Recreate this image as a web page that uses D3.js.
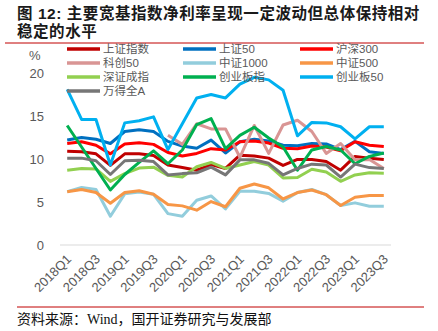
<!DOCTYPE html>
<html><head><meta charset="utf-8">
<script src="https://cdn.jsdelivr.net/npm/d3@7"></script>
<style>
html,body{margin:0;padding:0;background:#fff;}
svg{display:block;}
</style></head>
<body>
<script>
const quarters = ["2018Q1","2018Q2","2018Q3","2018Q4","2019Q1","2019Q2","2019Q3","2019Q4","2020Q1","2020Q2","2020Q3","2020Q4","2021Q1","2021Q2","2021Q3","2021Q4","2022Q1","2022Q2","2022Q3","2022Q4","2023Q1","2023Q2","2023Q3"];
const tickLabels = ["2018Q1","2018Q3","2019Q1","2019Q3","2020Q1","2020Q3","2021Q1","2021Q3","2022Q1","2022Q3","2023Q1","2023Q3"];
const yTicks = [0,5,10,15,20];

const shangzheng = [10.9,10.85,10.6,9.25,10.6,10.6,10.4,9.3,9.0,8.7,9.35,8.9,10.45,10.35,10.1,9.25,9.95,9.95,9.7,8.7,10.3,10.1,9.95];
const sz50 = [12.2,12.5,12.3,11.8,13.2,13.4,13.2,12.05,11.5,11.25,12.2,10.7,12.0,12.3,12.1,11.6,11.55,11.8,11.75,11.1,12.05,10.85,10.65];
const hs300 = [11.8,12.0,11.6,10.6,11.75,11.9,11.7,10.75,10.35,10.65,11.2,11.05,12.0,12.1,11.85,11.25,11.2,11.5,11.4,10.95,12.0,11.6,11.45];
const kc50 = [null,null,null,null,null,null,null,12.75,11.7,14.1,13.5,13.5,10.2,13.9,10.65,13.95,14.5,13.2,10.65,11.8,9.9,9.95,8.9];
const zz1000 = [6.2,6.7,6.45,3.35,5.95,6.15,5.9,3.65,3.35,5.2,5.7,4.2,6.25,6.25,6.0,5.1,6.1,6.45,5.85,4.6,4.9,4.5,4.5];
const zz500 = [6.2,6.45,6.1,4.85,6.1,6.3,5.9,4.7,4.55,4.05,5.05,4.45,6.6,7.1,6.65,5.35,6.1,6.4,5.85,4.6,5.55,5.75,5.75];
const szcz = [8.7,8.9,8.85,7.4,8.3,8.95,9.05,8.1,7.9,9.1,9.6,8.9,9.3,9.7,9.3,7.8,7.85,8.8,8.5,7.4,8.15,8.4,8.35];
const cybz = [13.9,11.4,8.9,6.4,8.2,9.6,10.95,9.45,11.05,14.0,14.7,11.2,12.75,13.7,12.45,11.4,8.7,11.05,11.45,11.05,9.45,10.3,10.7];
const cyb50 = [18.1,14.6,14.6,9.3,14.2,14.45,14.9,11.1,14.1,17.1,17.5,17.1,18.7,19.5,19.2,18.0,12.7,14.25,14.2,13.75,12.35,13.75,13.75];
const wdqa = [10.1,10.1,9.8,8.2,9.8,9.85,9.7,8.15,8.3,8.4,9.05,8.15,9.9,9.9,9.5,8.15,8.9,9.4,9.3,7.9,9.4,9.0,8.9];

const seriesNames = ["上证指数","上证50","沪深300","科创50","中证1000","中证500","深证成指","创业板指","创业板50","万得全A"];
const seriesColors = ["#C00000","#0070C0","#FF0000","#D99594","#92CDDC","#F79646","#92D050","#00B050","#00B0F0","#767676"];
const seriesValues = [shangzheng,sz50,hs300,kc50,zz1000,zz500,szcz,cybz,cyb50,wdqa];

const W = 438, H = 331;
const svg = d3.select("body").append("svg").attr("width", W).attr("height", H);

const mixFont = "'Liberation Sans','Noto Sans CJK SC', sans-serif";

// Title
const title = svg.append("g").attr("font-family",mixFont).attr("font-weight","bold").attr("font-size",15.5).attr("letter-spacing",0.55).attr("fill","#1a1a1a");
title.append("text").attr("x",17).attr("y",18.5).text("图 12: 主要宽基指数净利率呈现一定波动但总体保持相对");
title.append("text").attr("x",17).attr("y",37).text("稳定的水平");

svg.append("line").attr("x1",5).attr("x2",424).attr("y1",43).attr("y2",43).attr("stroke","#C00000").attr("stroke-width",1);
svg.append("line").attr("x1",17).attr("x2",424).attr("y1",307).attr("y2",307).attr("stroke","#C00000").attr("stroke-width",1);

svg.append("text").attr("x",17).attr("y",324)
  .attr("font-family","'Liberation Serif','Noto Sans CJK SC', serif").attr("font-size",14).attr("fill","#111")
  .text("资料来源：Wind，国开证券研究与发展部");

// Scales
const x = d3.scaleBand().domain(quarters).range([60,391]);
const y = d3.scaleLinear().domain([0,20]).range([245,73]);
const cx = q => x(q) + x.bandwidth()/2;

const axisFont = mixFont;
const gray = "#595959";

// Y axis labels
const yAxis = svg.append("g").attr("transform","translate(44,0)")
  .call(d3.axisLeft(y).tickValues(yTicks).tickSize(0).tickPadding(0));
yAxis.select(".domain").remove();
yAxis.selectAll("text").attr("font-family",axisFont).attr("font-size",13).attr("fill",gray);

svg.append("text").attr("x",29).attr("y",60).attr("font-family",axisFont).attr("font-size",13).attr("fill",gray).text("%");

// X axis line
svg.append("line").attr("x1",60).attr("x2",391).attr("y1",y(0)).attr("y2",y(0)).attr("stroke","#D9D9D9").attr("stroke-width",1);

// X tick labels
const xAxis = svg.append("g").attr("transform",`translate(0,${y(0)})`)
  .call(d3.axisBottom(x).tickValues(tickLabels).tickSize(0).tickPadding(0));
xAxis.select(".domain").remove();
xAxis.selectAll("text")
  .attr("font-family",axisFont).attr("font-size",13).attr("fill",gray)
  .attr("text-anchor","end").attr("dy",null).attr("y",null)
  .attr("transform","translate(5,15) rotate(-45)");

// Lines
const line = d3.line().defined(d => d != null).x((d,i) => cx(quarters[i])).y(d => y(d));
seriesValues.forEach((vals,k) => {
  svg.append("path").datum(vals).attr("d",line).attr("fill","none")
    .attr("stroke",seriesColors[k]).attr("stroke-width",3).attr("stroke-linejoin","round");
});

// Legend
const legCols = [67,183,300];
const legRows = [49,63,77,91];
seriesNames.forEach((name,k) => {
  const col = k % 3, row = Math.floor(k/3);
  const lx = legCols[col], ly = legRows[row];
  svg.append("line").attr("x1",lx).attr("x2",lx+33).attr("y1",ly).attr("y2",ly)
    .attr("stroke",seriesColors[k]).attr("stroke-width",3.5);
  svg.append("text").attr("x",lx+36).attr("y",ly).attr("dy","0.35em")
    .attr("font-family",axisFont).attr("font-size",11.5).attr("fill",gray).text(name);
});
</script>
</body></html>
